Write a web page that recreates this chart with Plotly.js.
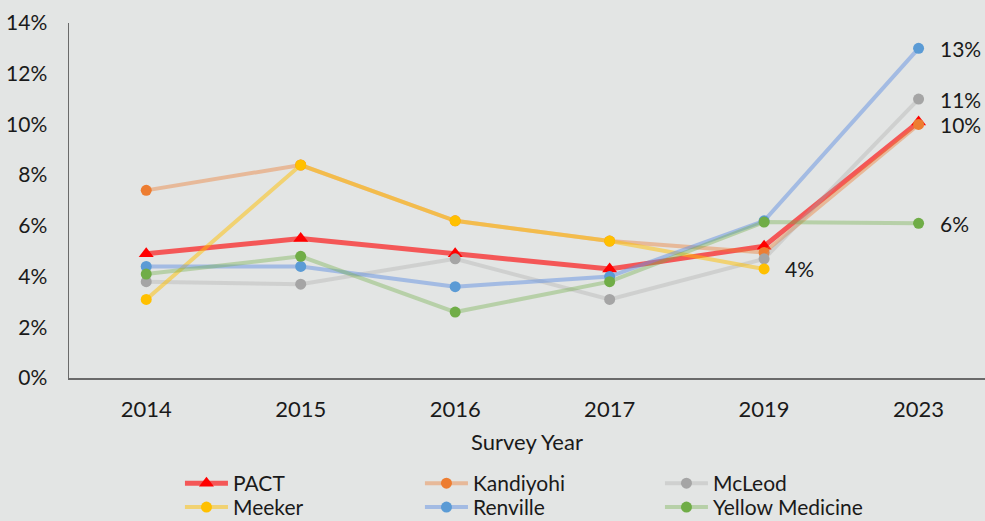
<!DOCTYPE html>
<html>
<head>
<meta charset="utf-8">
<script src="https://cdn.plot.ly/plotly-3.0.1.min.js"></script>
<style>html,body{margin:0;padding:0;background:#E3E5E4;}#chart{width:985px;height:521px;}</style>
</head>
<body>
<div id="chart"></div>
<script>
const years = ["2014", "2015", "2016", "2017", "2019", "2023"];
const seriesNames = ["PACT", "Kandiyohi", "McLeod", "Meeker", "Renville", "Yellow Medicine"];
const pact = [4.9, 5.5, 4.9, 4.3, 5.2, 10.1];
const kandiyohi = [7.4, 8.4, 6.2, 5.4, 4.95, 10.0];
const mcleod = [3.8, 3.7, 4.7, 3.1, 4.7, 11.0];
const meeker = [3.1, 8.4, 6.2, 5.4, 4.3, null];
const renville = [4.4, 4.4, 3.6, 4.0, 6.2, 13.0];
const yellowMedicine = [4.1, 4.8, 2.6, 3.8, 6.15, 6.1];
const pactLabels = ["", "", "", "", "", ""];
const kandiyohiLabels = ["", "", "", "", "", "10%"];
const mcleodLabels = ["", "", "", "", "", "11%"];
const meekerLabels = ["", "", "", "", "4%", ""];
const renvilleLabels = ["", "", "", "", "", "13%"];
const yellowMedicineLabels = ["", "", "", "", "", "6%"];

const values = [pact, kandiyohi, mcleod, meeker, renville, yellowMedicine];
const labels = [pactLabels, kandiyohiLabels, mcleodLabels, meekerLabels, renvilleLabels, yellowMedicineLabels];
const lineColors = ["rgba(255,0,0,0.62)", "rgba(237,125,49,0.42)", "rgba(165,165,165,0.32)", "rgba(255,192,0,0.5)", "rgba(100,145,225,0.5)", "rgba(112,173,71,0.38)"];
const markerColors = ["#FF0000", "#ED7D31", "#A5A5A5", "#FFC000", "#5B9BD5", "#70AD47"];
const symbols = ["triangle-up", "circle", "circle", "circle", "circle", "circle"];
const lineWidths = [5, 4, 4, 4, 4, 4];
const legendIds = ["legend", "legend", "legend", "legend2", "legend2", "legend2"];

const FONT = "Lato, 'Open Sans', sans-serif";
const traces = seriesNames.map((n, i) => ({
  type: "scatter",
  mode: "lines+markers",
  name: n,
  x: years,
  y: values[i],
  legend: legendIds[i],
  connectgaps: false,
  line: {color: lineColors[i], width: lineWidths[i]},
  marker: {color: markerColors[i], symbol: symbols[i], size: i === 0 ? 13 : 11},
  cliponaxis: false
}));

const annotations = [];
labels.forEach((arr, i) => {
  arr.forEach((t, j) => {
    if (t) {
      annotations.push({
        x: j, y: values[i][j], xref: "x", yref: "y",
        text: t, showarrow: false, xanchor: "left", yanchor: "middle",
        xshift: 19, font: {family: FONT, size: 21, color: "#1a1a1a"}
      });
    }
  });
});

const legendBase = {
  orientation: "h",
  xref: "container", yref: "container",
  x: 0.1827, xanchor: "left",
  yanchor: "middle",
  entrywidth: 182,
  entrywidthmode: "pixels",
  itemwidth: 43,
  tracegroupgap: 0,
  font: {family: FONT, size: 21, color: "#1a1a1a"},
  bgcolor: "rgba(0,0,0,0)"
};

const layout = {
  width: 985, height: 521,
  paper_bgcolor: "#E3E5E4",
  plot_bgcolor: "#E3E5E4",
  margin: {l: 69, r: 0, t: 23, b: 143},
  font: {family: FONT, size: 21, color: "#1a1a1a"},
  showlegend: true,
  annotations: annotations,
  xaxis: {
    type: "category",
    range: [-0.5, 5.43],
    showgrid: false, zeroline: false,
    showline: true, linecolor: "#6a6a6a", linewidth: 1.5,
    ticks: "", ticklabelstandoff: 11,
    tickfont: {family: FONT, size: 22, color: "#1a1a1a"},
    title: {text: "Survey Year", font: {family: FONT, size: 22, color: "#1a1a1a"}, standoff: 13}
  },
  yaxis: {
    range: [0, 14], dtick: 2,
    ticksuffix: "%",
    showgrid: false, zeroline: false,
    showline: true, linecolor: "#6a6a6a", linewidth: 1.5,
    ticks: "", ticklabelstandoff: 16,
    tickfont: {family: FONT, size: 21, color: "#1a1a1a"}
  },
  legend: Object.assign({}, legendBase, {y: 0.072}),
  legend2: Object.assign({}, legendBase, {y: 0.026})
};

Plotly.newPlot("chart", traces, layout, {displayModeBar: false, staticPlot: true});
</script>
</body>
</html>
